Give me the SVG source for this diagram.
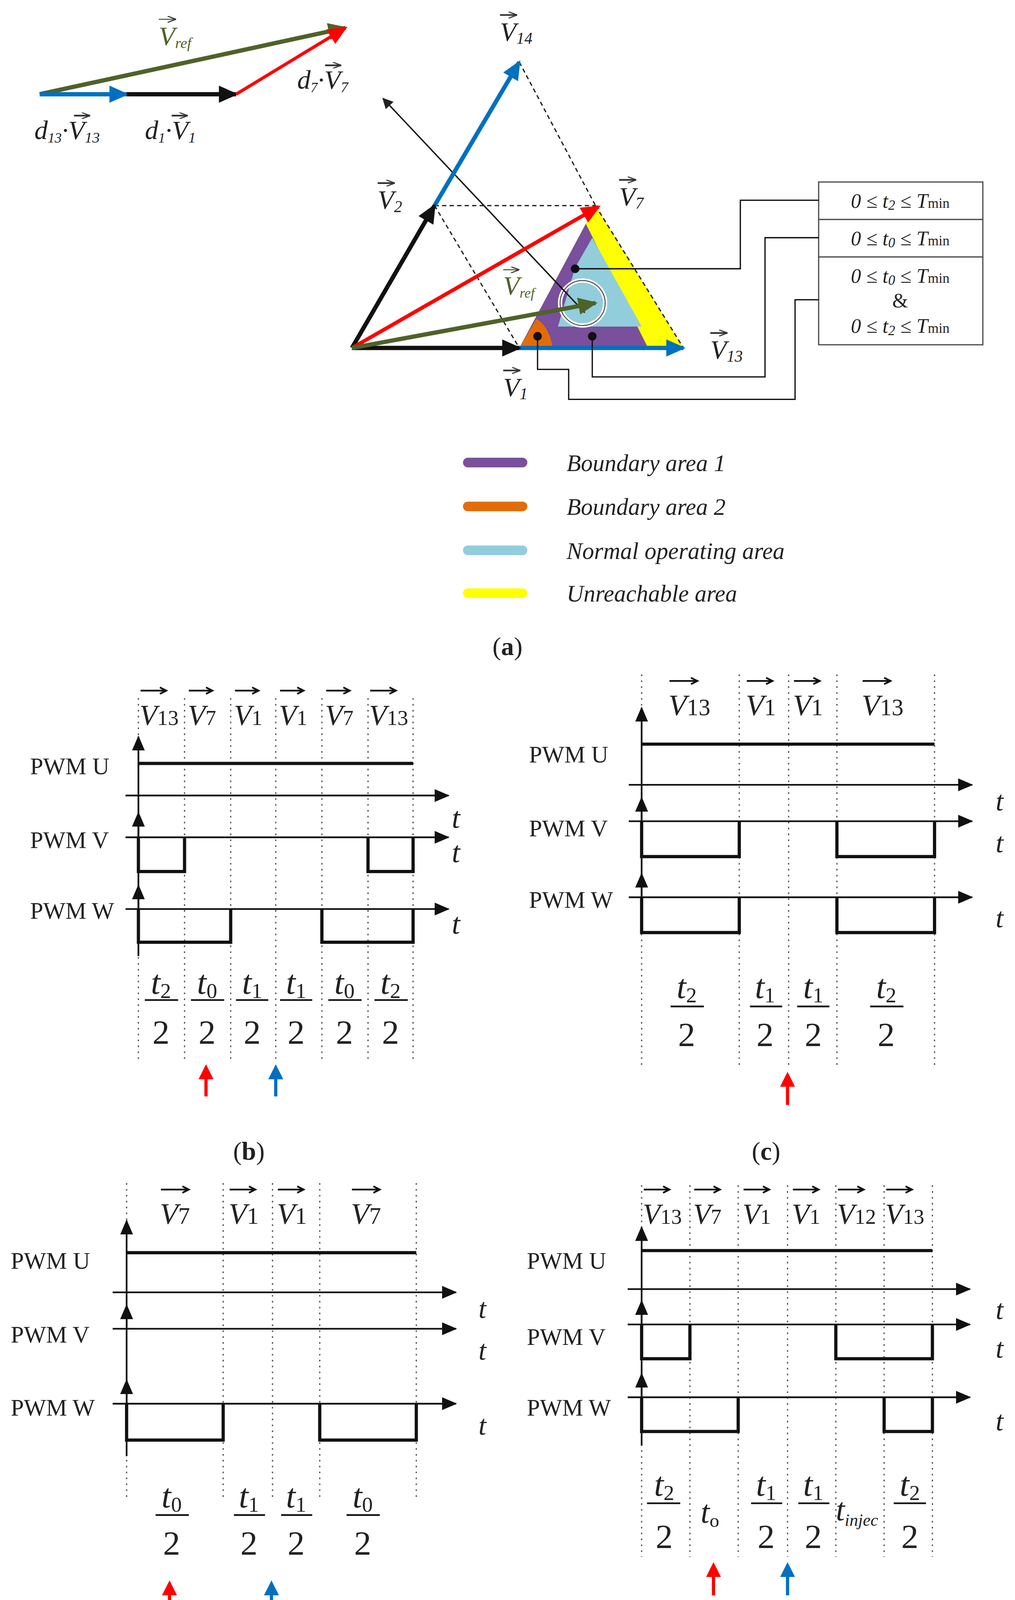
<svg xmlns="http://www.w3.org/2000/svg" width="2599" height="4298" viewBox="0 0 2599 4298">
<defs>
<style>
text{font-family:"Liberation Serif","DejaVu Serif",serif;fill:#222}
.it{font-style:italic}
.pw{font-size:22px}
.vl{font-size:25px;font-style:italic}
.fr{font-size:32px}
.leg{font-size:22px;font-style:italic}
.dot{stroke:#555;stroke-width:1.2;stroke-dasharray:1.5 4;fill:none}
.ax{stroke:#111;stroke-width:1.6;fill:none}
.sig{stroke:#111;stroke-width:3;fill:none;stroke-linejoin:miter}
.ol{stroke:#111;stroke-width:1.2;fill:none}
.ln{stroke:#333;stroke-width:1.6;fill:none}
.dash{stroke:#222;stroke-width:1.2;stroke-dasharray:4 3;fill:none}
</style>
<marker id="ah" markerUnits="userSpaceOnUse" markerWidth="14" markerHeight="12" refX="13" refY="6" orient="auto"><path d="M0,0 L14,6 L0,12 Z" fill="#111"/></marker>
<marker id="aS" markerUnits="userSpaceOnUse" markerWidth="8" markerHeight="6" refX="8" refY="3" orient="auto"><path d="M0,0 L8,3 L0,6" fill="none" stroke="#333" stroke-width="1"/></marker>
<marker id="aK" markerUnits="userSpaceOnUse" markerWidth="18" markerHeight="16" refX="16" refY="8" orient="auto"><path d="M0,0 L18,8 L0,16 Z" fill="#111"/></marker>
<marker id="aB" markerUnits="userSpaceOnUse" markerWidth="18" markerHeight="16" refX="16" refY="8" orient="auto"><path d="M0,0 L18,8 L0,16 Z" fill="#0070c0"/></marker>
<marker id="aR" markerUnits="userSpaceOnUse" markerWidth="18" markerHeight="16" refX="16" refY="8" orient="auto"><path d="M0,0 L18,8 L0,16 Z" fill="#ff0000"/></marker>
<marker id="aG" markerUnits="userSpaceOnUse" markerWidth="18" markerHeight="16" refX="16" refY="8" orient="auto"><path d="M0,0 L18,8 L0,16 Z" fill="#4f6228"/></marker>
<marker id="aT" markerUnits="userSpaceOnUse" markerWidth="10" markerHeight="10" refX="9" refY="5" orient="auto"><path d="M0,0 L10,5 L0,10 Z" fill="#222"/></marker>
<marker id="aRs" markerUnits="userSpaceOnUse" markerWidth="14" markerHeight="14" refX="3" refY="7" orient="auto"><path d="M0,0 L14,7 L0,14 Z" fill="#ff0000"/></marker>
<marker id="aBs" markerUnits="userSpaceOnUse" markerWidth="14" markerHeight="14" refX="3" refY="7" orient="auto"><path d="M0,0 L14,7 L0,14 Z" fill="#0070c0"/></marker>
</defs>
<rect width="2599" height="4298" fill="#fff"/>
<g transform="scale(2.7474,2.741)">

<g id="sum">
<line x1="37" y1="88" x2="322" y2="26" stroke="#4f6228" stroke-width="4" marker-end="url(#aG)"/>
<line x1="37" y1="88" x2="118" y2="88" stroke="#0070c0" stroke-width="4" marker-end="url(#aB)"/>
<line x1="118" y1="88" x2="220" y2="88" stroke="#111" stroke-width="4" marker-end="url(#aK)"/>
<line x1="220" y1="88" x2="322" y2="26" stroke="#ff0000" stroke-width="3" marker-end="url(#aR)"/>
<text x="148" y="42" class="vl" style="fill:#4f6228">V<tspan font-size="14" dy="3">ref</tspan></text>
<line x1="148" y1="18" x2="164" y2="18" stroke="#4f6228" stroke-width="1" marker-end="url(#aS)"/>
<text x="32" y="130" class="vl" font-size="22">d<tspan font-size="13" dy="3">13</tspan><tspan dy="-3">·V</tspan><tspan font-size="14" dy="3">13</tspan></text>
<line x1="69" y1="108" x2="84" y2="108" class="ln" stroke-width="1" marker-end="url(#aS)"/>
<text x="135" y="130" class="vl" font-size="22">d<tspan font-size="13" dy="3">1</tspan><tspan dy="-3">·V</tspan><tspan font-size="14" dy="3">1</tspan></text>
<line x1="160" y1="108" x2="175" y2="108" class="ln" stroke-width="1" marker-end="url(#aS)"/>
<text x="277" y="83" class="vl" font-size="22">d<tspan font-size="13" dy="3">7</tspan><tspan dy="-3">·V</tspan><tspan font-size="14" dy="3">7</tspan></text>
<line x1="303" y1="61" x2="318" y2="61" class="ln" stroke-width="1" marker-end="url(#aS)"/>
</g>

<g id="regions">
<polygon points="484,325 555,192 637,325" fill="#ffff00"/>
<polygon points="484,325 546,209 604,325" fill="#7a4f9c"/>
<polygon points="552,222 598,305 520,305 536,250" fill="#92cddc"/>
<path d="M484,325 L515,325 Q512,305 500,298 Z" fill="#e36c0a"/>
<circle cx="543" cy="283" r="21" fill="none" stroke="#fff" stroke-width="4"/>
<circle cx="543" cy="283" r="21" fill="none" stroke="#555" stroke-width="1"/>
</g>
<g id="dashes">
<line x1="405" y1="192" x2="555" y2="192" class="dash" stroke-dasharray="2 2" stroke-width="1.5"/>
<line x1="484" y1="58" x2="555" y2="192" class="dash"/>
<line x1="405" y1="192" x2="484" y2="325" class="dash"/>
<line x1="555" y1="192" x2="637" y2="325" class="dash"/>
</g>
<g id="vectors">
<line x1="545" y1="292" x2="357" y2="92" stroke="#111" stroke-width="1.3" marker-end="url(#aT)"/>
<line x1="405" y1="192" x2="484" y2="58" stroke="#0070c0" stroke-width="4" marker-end="url(#aB)"/>
<line x1="484" y1="325" x2="637" y2="325" stroke="#0070c0" stroke-width="4" marker-end="url(#aB)"/>
<line x1="328" y1="325" x2="484" y2="325" stroke="#111" stroke-width="4" marker-end="url(#aK)"/>
<line x1="328" y1="325" x2="405" y2="192" stroke="#111" stroke-width="4" marker-end="url(#aK)"/>
<line x1="328" y1="325" x2="558" y2="193" stroke="#ff0000" stroke-width="3.5" marker-end="url(#aR)"/>
<line x1="328" y1="325" x2="555" y2="283" stroke="#4f6228" stroke-width="4" marker-end="url(#aG)"/>
</g>
<g id="vlabels">
<text x="466" y="38" class="vl">V<tspan font-size="15" dy="3">14</tspan></text><line x1="466" y1="14" x2="482" y2="14" class="ln" stroke-width="1" marker-end="url(#aS)"/>
<text x="352" y="195" class="vl">V<tspan font-size="15" dy="3">2</tspan></text><line x1="352" y1="171" x2="368" y2="171" class="ln" stroke-width="1" marker-end="url(#aS)"/>
<text x="577" y="192" class="vl">V<tspan font-size="15" dy="3">7</tspan></text><line x1="577" y1="168" x2="593" y2="168" class="ln" stroke-width="1" marker-end="url(#aS)"/>
<text x="662" y="335" class="vl">V<tspan font-size="15" dy="3">13</tspan></text><line x1="662" y1="311" x2="678" y2="311" class="ln" stroke-width="1" marker-end="url(#aS)"/>
<text x="469" y="370" class="vl">V<tspan font-size="15" dy="3">1</tspan></text><line x1="469" y1="346" x2="485" y2="346" class="ln" stroke-width="1" marker-end="url(#aS)"/>
<text x="469" y="275" class="vl" style="fill:#4f6228">V<tspan font-size="13" dy="3">ref</tspan></text><line x1="469" y1="252" x2="484" y2="252" stroke="#4f6228" stroke-width="1" marker-end="url(#aS)"/>
</g>
<g id="boxes">
<rect x="763" y="170" width="153" height="35" fill="#fff" stroke="#555" stroke-width="1.2"/>
<rect x="763" y="205" width="153" height="35" fill="#fff" stroke="#555" stroke-width="1.2"/>
<rect x="763" y="240" width="153" height="82" fill="#fff" stroke="#555" stroke-width="1.2"/>
<text x="839" y="194" class="it" font-size="19" text-anchor="middle">0 ≤ t<tspan font-size="13" dy="2">2</tspan><tspan dy="-2"> ≤ T</tspan><tspan font-size="13" font-style="normal">min</tspan></text>
<text x="839" y="229" class="it" font-size="19" text-anchor="middle">0 ≤ t<tspan font-size="13" dy="2">0</tspan><tspan dy="-2"> ≤ T</tspan><tspan font-size="13" font-style="normal">min</tspan></text>
<text x="839" y="264" class="it" font-size="19" text-anchor="middle">0 ≤ t<tspan font-size="13" dy="2">0</tspan><tspan dy="-2"> ≤ T</tspan><tspan font-size="13" font-style="normal">min</tspan></text>
<text x="839" y="287" font-size="19" text-anchor="middle">&amp;</text>
<text x="839" y="311" class="it" font-size="19" text-anchor="middle">0 ≤ t<tspan font-size="13" dy="2">2</tspan><tspan dy="-2"> ≤ T</tspan><tspan font-size="13" font-style="normal">min</tspan></text>
</g>
<g id="leaders">
<circle cx="536" cy="251" r="4" fill="#111"/>
<circle cx="552" cy="314" r="4" fill="#111"/>
<circle cx="501" cy="314" r="4" fill="#111"/>
<polyline points="536,251 690,251 690,187 763,187" class="ol"/>
<polyline points="552,314 552,352 713,352 713,222 763,222" class="ol"/>
<polyline points="501,314 501,345 530,345 530,373 741,373 741,280 763,280" class="ol"/>
</g>
<g id="legend">
<line x1="436" y1="432" x2="487" y2="432" stroke="#7a4f9c" stroke-width="9" stroke-linecap="round"/>
<line x1="436" y1="473" x2="487" y2="473" stroke="#e36c0a" stroke-width="9" stroke-linecap="round"/>
<line x1="436" y1="514" x2="487" y2="514" stroke="#92cddc" stroke-width="9" stroke-linecap="round"/>
<line x1="436" y1="554" x2="487" y2="554" stroke="#ffff00" stroke-width="9" stroke-linecap="round"/>
<text x="528" y="440" class="leg">Boundary area 1</text>
<text x="528" y="481" class="leg">Boundary area 2</text>
<text x="528" y="522" class="leg">Normal operating area</text>
<text x="528" y="562" class="leg">Unreachable area</text>
<text x="473" y="612" font-size="24" text-anchor="middle">(<tspan font-weight="bold">a</tspan>)</text>
</g>

<g id="panel-b">
<g class="dot"><path d="M129,652V993M172,652V993M215,652V993M257,652V993M300,652V993M343,652V993M385,652V993"/></g>
<g font-size="27" class="it">
<text x="130" y="677">V<tspan font-size="20" font-style="normal">13</tspan></text>
<text x="175" y="677">V<tspan font-size="20" font-style="normal">7</tspan></text>
<text x="218" y="677">V<tspan font-size="20" font-style="normal">1</tspan></text>
<text x="260" y="677">V<tspan font-size="20" font-style="normal">1</tspan></text>
<text x="303" y="677">V<tspan font-size="20" font-style="normal">7</tspan></text>
<text x="344" y="677">V<tspan font-size="20" font-style="normal">13</tspan></text>
</g>
<path d="M131,645H155M176,645H198M219,645H241M261,645H283M304,645H326M345,645H369" class="ax" stroke-width="1"/>
<path d="M149,642L155,645L149,648M192,642L198,645L192,648M235,642L241,645L235,648M277,642L283,645L277,648M320,642L326,645L320,648M363,642L369,645L363,648" class="ax" stroke-width="1"/>
<line x1="129" y1="893" x2="129" y2="688" class="ax" marker-end="url(#ah)"/>
<line x1="129" y1="782" x2="129" y2="759" class="ax" marker-end="url(#ah)"/>
<line x1="129" y1="849" x2="129" y2="827" class="ax" marker-end="url(#ah)"/>
<line x1="117" y1="743" x2="418" y2="743" class="ax" marker-end="url(#ah)"/>
<line x1="117" y1="782" x2="418" y2="782" class="ax" marker-end="url(#ah)"/>
<line x1="117" y1="849" x2="418" y2="849" class="ax" marker-end="url(#ah)"/>
<path d="M129,713H385" class="sig"/>
<path d="M129,782V814H172V782M343,782V814H385V782" class="sig"/>
<path d="M129,849V880H215V849M300,849V880H385V849" class="sig"/>
<g class="pw"><text x="28" y="723">PWM U</text><text x="28" y="792">PWM V</text><text x="28" y="858">PWM W</text></g>
<g font-size="28" class="it"><text x="421" y="773">t</text><text x="421" y="805">t</text><text x="421" y="872">t</text></g>
<g class="fr" text-anchor="middle">
<text x="150" y="928" class="it">t<tspan font-size="20" font-style="normal" dy="4">2</tspan></text><text x="150" y="975">2</text>
<text x="193" y="928" class="it">t<tspan font-size="20" font-style="normal" dy="4">0</tspan></text><text x="193" y="975">2</text>
<text x="235" y="928" class="it">t<tspan font-size="20" font-style="normal" dy="4">1</tspan></text><text x="235" y="975">2</text>
<text x="276" y="928" class="it">t<tspan font-size="20" font-style="normal" dy="4">1</tspan></text><text x="276" y="975">2</text>
<text x="321" y="928" class="it">t<tspan font-size="20" font-style="normal" dy="4">0</tspan></text><text x="321" y="975">2</text>
<text x="364" y="928" class="it">t<tspan font-size="20" font-style="normal" dy="4">2</tspan></text><text x="364" y="975">2</text>
</g>
<path d="M135,934H166M178,934H209M220,934H250M261,934H291M306,934H337M349,934H380" class="ax" stroke-width="1.2"/>
<line x1="192" y1="1024" x2="192" y2="1005" stroke="#ff0000" stroke-width="3" marker-end="url(#aRs)"/>
<line x1="257" y1="1024" x2="257" y2="1005" stroke="#0070c0" stroke-width="3" marker-end="url(#aBs)"/>
<text x="232" y="1083" font-size="24" text-anchor="middle">(<tspan font-weight="bold">b</tspan>)</text>
</g>

<g id="panel-c">
<g class="dot"><path d="M598,630V995M689,630V995M735,630V995M780,630V995M871,630V995"/></g>
<g font-size="28" class="it">
<text x="623" y="668">V<tspan font-size="22" font-style="normal">13</tspan></text>
<text x="695" y="668">V<tspan font-size="22" font-style="normal">1</tspan></text>
<text x="739" y="668">V<tspan font-size="22" font-style="normal">1</tspan></text>
<text x="803" y="668">V<tspan font-size="22" font-style="normal">13</tspan></text>
</g>
<path d="M624,636H650M696,636H720M740,636H764M804,636H830M644,633L650,636L644,639M714,633L720,636L714,639M758,633L764,636L758,639M824,633L830,636L824,639" class="ax" stroke-width="1"/>
<line x1="598" y1="870" x2="598" y2="661" class="ax" marker-end="url(#ah)"/>
<line x1="598" y1="767" x2="598" y2="745" class="ax" marker-end="url(#ah)"/>
<line x1="598" y1="838" x2="598" y2="816" class="ax" marker-end="url(#ah)"/>
<line x1="586" y1="733" x2="906" y2="733" class="ax" marker-end="url(#ah)"/>
<line x1="586" y1="767" x2="906" y2="767" class="ax" marker-end="url(#ah)"/>
<line x1="586" y1="838" x2="906" y2="838" class="ax" marker-end="url(#ah)"/>
<path d="M598,695H871" class="sig"/>
<path d="M598,767V800H689V767M780,767V800H871V767" class="sig"/>
<path d="M598,838V871H689V838M780,838V871H871V838" class="sig"/>
<g class="pw"><text x="493" y="712">PWM U</text><text x="493" y="781">PWM V</text><text x="493" y="848">PWM W</text></g>
<g font-size="26" class="it"><text x="928" y="757">t</text><text x="928" y="796">t</text><text x="928" y="866">t</text></g>
<g class="fr" text-anchor="middle">
<text x="640" y="932" class="it">t<tspan font-size="20" font-style="normal" dy="4">2</tspan></text><text x="640" y="977">2</text>
<text x="713" y="932" class="it">t<tspan font-size="20" font-style="normal" dy="4">1</tspan></text><text x="713" y="977">2</text>
<text x="758" y="932" class="it">t<tspan font-size="20" font-style="normal" dy="4">1</tspan></text><text x="758" y="977">2</text>
<text x="826" y="932" class="it">t<tspan font-size="20" font-style="normal" dy="4">2</tspan></text><text x="826" y="977">2</text>
</g>
<path d="M625,940H656M699,940H729M743,940H773M811,940H842" class="ax" stroke-width="1.2"/>
<line x1="734" y1="1032" x2="734" y2="1012" stroke="#ff0000" stroke-width="3" marker-end="url(#aRs)"/>
<text x="714" y="1083" font-size="24" text-anchor="middle">(<tspan font-weight="bold">c</tspan>)</text>
</g>

<g id="panel-d">
<g class="dot"><path d="M118,1105V1400M208,1105V1400M254,1105V1400M298,1105V1400M388,1105V1400"/></g>
<g font-size="28" class="it">
<text x="149" y="1143">V<tspan font-size="22" font-style="normal">7</tspan></text>
<text x="213" y="1143">V<tspan font-size="22" font-style="normal">1</tspan></text>
<text x="258" y="1143">V<tspan font-size="22" font-style="normal">1</tspan></text>
<text x="327" y="1143">V<tspan font-size="22" font-style="normal">7</tspan></text>
</g>
<path d="M150,1111H176M214,1111H238M259,1111H283M328,1111H354M170,1108L176,1111L170,1114M232,1108L238,1111L232,1114M277,1108L283,1111L277,1114M348,1108L354,1111L348,1114" class="ax" stroke-width="1"/>
<line x1="118" y1="1360" x2="118" y2="1140" class="ax" marker-end="url(#ah)"/>
<line x1="118" y1="1241" x2="118" y2="1219" class="ax" marker-end="url(#ah)"/>
<line x1="118" y1="1311" x2="118" y2="1289" class="ax" marker-end="url(#ah)"/>
<line x1="105" y1="1207" x2="425" y2="1207" class="ax" marker-end="url(#ah)"/>
<line x1="105" y1="1241" x2="425" y2="1241" class="ax" marker-end="url(#ah)"/>
<line x1="105" y1="1311" x2="425" y2="1311" class="ax" marker-end="url(#ah)"/>
<path d="M118,1170H388" class="sig"/>
<path d="M118,1311V1345H208V1311M298,1311V1345H388V1311" class="sig"/>
<g class="pw"><text x="10" y="1185">PWM U</text><text x="10" y="1254">PWM V</text><text x="10" y="1322">PWM W</text></g>
<g font-size="26" class="it"><text x="446" y="1231">t</text><text x="446" y="1270">t</text><text x="446" y="1340">t</text></g>
<g class="fr" text-anchor="middle">
<text x="160" y="1408" class="it">t<tspan font-size="20" font-style="normal" dy="4">0</tspan></text><text x="160" y="1452">2</text>
<text x="232" y="1408" class="it">t<tspan font-size="20" font-style="normal" dy="4">1</tspan></text><text x="232" y="1452">2</text>
<text x="276" y="1408" class="it">t<tspan font-size="20" font-style="normal" dy="4">1</tspan></text><text x="276" y="1452">2</text>
<text x="338" y="1408" class="it">t<tspan font-size="20" font-style="normal" dy="4">0</tspan></text><text x="338" y="1452">2</text>
</g>
<path d="M145,1415H176M218,1415H247M262,1415H291M323,1415H354" class="ax" stroke-width="1.2"/>
<line x1="158" y1="1507" x2="158" y2="1487" stroke="#ff0000" stroke-width="3" marker-end="url(#aRs)"/>
<line x1="253" y1="1507" x2="253" y2="1487" stroke="#0070c0" stroke-width="3" marker-end="url(#aBs)"/>
<text x="232" y="1553" font-size="24" text-anchor="middle">(<tspan font-weight="bold">d</tspan>)</text>
</g>

<g id="panel-e">
<g class="dot"><path d="M598,1107V1454M643,1107V1454M688,1107V1454M734,1107V1454M779,1107V1454M824,1107V1454M869,1107V1454"/></g>
<g font-size="27" class="it">
<text x="599" y="1143">V<tspan font-size="20" font-style="normal">13</tspan></text>
<text x="646" y="1143">V<tspan font-size="20" font-style="normal">7</tspan></text>
<text x="692" y="1143">V<tspan font-size="20" font-style="normal">1</tspan></text>
<text x="738" y="1143">V<tspan font-size="20" font-style="normal">1</tspan></text>
<text x="780" y="1143">V<tspan font-size="20" font-style="normal">12</tspan></text>
<text x="825" y="1143">V<tspan font-size="20" font-style="normal">13</tspan></text>
</g>
<path d="M600,1111H624M647,1111H671M693,1111H717M739,1111H763M781,1111H805M826,1111H850M618,1108L624,1111L618,1114M665,1108L671,1111L665,1114M711,1108L717,1111L711,1114M757,1108L763,1111L757,1114M799,1108L805,1111L799,1114M844,1108L850,1111L844,1114" class="ax" stroke-width="1"/>
<line x1="598" y1="1350" x2="598" y2="1146" class="ax" marker-end="url(#ah)"/>
<line x1="598" y1="1237" x2="598" y2="1215" class="ax" marker-end="url(#ah)"/>
<line x1="598" y1="1305" x2="598" y2="1283" class="ax" marker-end="url(#ah)"/>
<line x1="585" y1="1204" x2="904" y2="1204" class="ax" marker-end="url(#ah)"/>
<line x1="585" y1="1237" x2="904" y2="1237" class="ax" marker-end="url(#ah)"/>
<line x1="585" y1="1305" x2="904" y2="1305" class="ax" marker-end="url(#ah)"/>
<path d="M598,1168H869" class="sig"/>
<path d="M598,1237V1269H643V1237M779,1237V1269H869V1237" class="sig"/>
<path d="M598,1305V1337H688V1305M824,1305V1337H869V1305" class="sig"/>
<g class="pw"><text x="491" y="1185">PWM U</text><text x="491" y="1256">PWM V</text><text x="491" y="1322">PWM W</text></g>
<g font-size="26" class="it"><text x="928" y="1232">t</text><text x="928" y="1268">t</text><text x="928" y="1336">t</text></g>
<g class="fr" text-anchor="middle">
<text x="619" y="1397" class="it">t<tspan font-size="20" font-style="normal" dy="4">2</tspan></text><text x="619" y="1446">2</text>
<text x="714" y="1397" class="it">t<tspan font-size="20" font-style="normal" dy="4">1</tspan></text><text x="714" y="1446">2</text>
<text x="758" y="1397" class="it">t<tspan font-size="20" font-style="normal" dy="4">1</tspan></text><text x="758" y="1446">2</text>
<text x="848" y="1397" class="it">t<tspan font-size="20" font-style="normal" dy="4">2</tspan></text><text x="848" y="1446">2</text>
</g>
<path d="M603,1404H634M700,1404H729M744,1404H773M833,1404H863" class="ax" stroke-width="1.2"/>
<text x="653" y="1422" class="it" font-size="30">t<tspan font-size="18" font-style="normal" dy="4">o</tspan></text>
<text x="779" y="1420" class="it" font-size="30">t<tspan font-size="16" dy="5">injec</tspan></text>
<line x1="665" y1="1490" x2="665" y2="1470" stroke="#ff0000" stroke-width="3" marker-end="url(#aRs)"/>
<line x1="734" y1="1490" x2="734" y2="1470" stroke="#0070c0" stroke-width="3" marker-end="url(#aBs)"/>
<text x="714" y="1553" font-size="24" text-anchor="middle">(<tspan font-weight="bold">e</tspan>)</text>
</g>
</g>
</svg>
